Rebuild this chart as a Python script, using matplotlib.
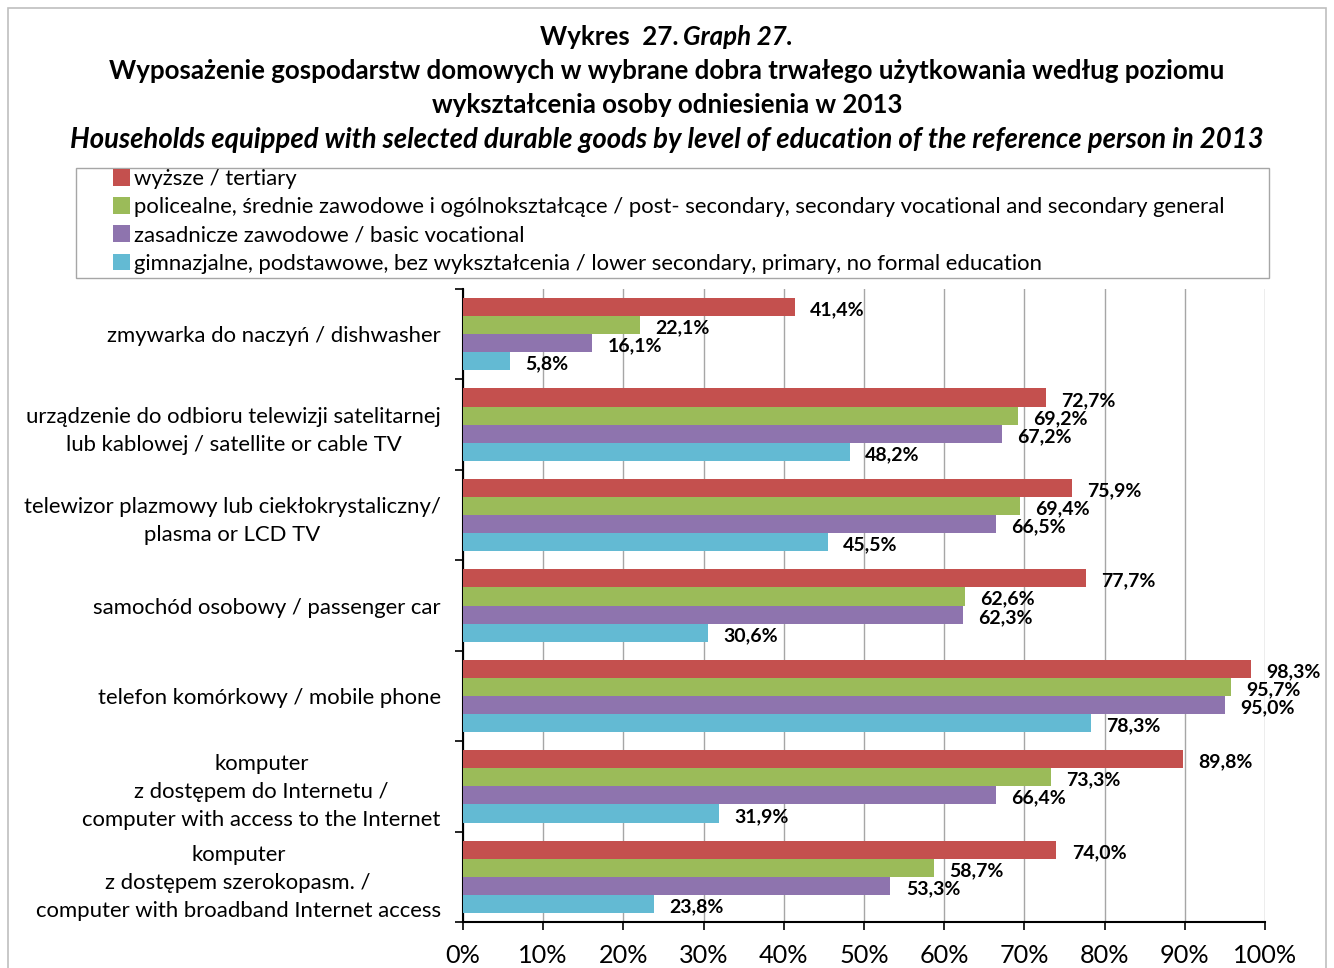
import numpy as np
import matplotlib.pyplot as plt
from matplotlib.patches import Rectangle

plt.rcParams['font.family'] = ['Lato', 'DejaVu Sans']

categories = [
    'zmywarka do naczyń / dishwasher',
    'urządzenie do odbioru telewizji satelitarnej\nlub kablowej / satellite or cable TV',
    'telewizor plazmowy lub ciekłokrystaliczny/\nplasma or LCD TV',
    'samochód osobowy / passenger car',
    'telefon komórkowy / mobile phone',
    'komputer\nz dostępem do Internetu /\ncomputer with access to the Internet',
    'komputer\nz dostępem szerokopasm. /\ncomputer with broadband Internet access',
]
series_names = [
    'wyższe / tertiary',
    'policealne, średnie zawodowe i ogólnokształcące / post- secondary, secondary vocational and secondary general',
    'zasadnicze zawodowe / basic vocational',
    'gimnazjalne, podstawowe, bez wykształcenia / lower secondary, primary, no formal education',
]
tertiary = [41.4, 72.7, 75.9, 77.7, 98.3, 89.8, 74.0]
secondary = [22.1, 69.2, 69.4, 62.6, 95.7, 73.3, 58.7]
vocational = [16.1, 67.2, 66.5, 62.3, 95.0, 66.4, 53.3]
primary = [5.8, 48.2, 45.5, 30.6, 78.3, 31.9, 23.8]
colors = ['#C4504E', '#9BBB59', '#8E74AE', '#63BAD3']

W, H = 1334, 968
fig = plt.figure(figsize=(W / 100, H / 100), dpi=100)

# outer frame
fig.patches.append(Rectangle((8 / W, -0.05), (1326 - 8) / W, 1 - 8 / H + 0.05,
                             transform=fig.transFigure, fill=False,
                             edgecolor='#BFBFBF', linewidth=1.2))

# titles
tfs = 18.6
fig.text(678 / W, 1 - 37 / H, 'Wykres  27.', ha='right', va='center',
         fontsize=tfs, fontweight='bold')
fig.text(683 / W, 1 - 37 / H, 'Graph 27.', ha='left', va='center',
         fontsize=tfs, fontweight='bold', style='italic')
fig.text(0.5, 1 - 71 / H, 'Wyposażenie gospodarstw domowych w wybrane dobra trwałego użytkowania według poziomu',
         ha='center', va='center', fontsize=tfs, fontweight='bold')
fig.text(0.5, 1 - 105 / H, 'wykształcenia osoby odniesienia w 2013',
         ha='center', va='center', fontsize=tfs, fontweight='bold')
fig.text(0.5, 1 - 140 / H, 'Households equipped with selected durable goods by level of education of the reference person in 2013',
         ha='center', va='center', fontsize=19.8, fontweight='bold', style='italic')

ax = fig.add_axes([463 / W, 1 - 922 / H, 802 / W, (922 - 289) / H])

y = np.arange(len(categories))
h = 0.2
offsets = [-0.3, -0.1, 0.1, 0.3]
bars = []
for vals, off, col, name in zip([tertiary, secondary, vocational, primary], offsets, colors, series_names):
    b = ax.barh(y + off, vals, height=h, color=col, edgecolor='none', label=name, zorder=3)
    bars.append(b)
    for yi, v in zip(y, vals):
        ax.annotate(f'{v:.1f}%'.replace('.', ','), (v, yi + off), xytext=(11, -2),
                    textcoords='offset points', ha='left', va='center',
                    fontsize=14, fontweight='bold', zorder=5)

ax.set_xlim(0, 100)
ax.set_ylim(len(categories) - 0.5, -0.5)
ax.set_xticks(np.arange(0, 101, 10))
ax.set_xticklabels([f'{t}%' for t in range(0, 101, 10)], fontsize=18.2)
ax.set_yticks(y)
ax.set_yticklabels(categories, fontsize=15.9, multialignment='center', linespacing=1.5)
ax.set_yticks(np.arange(-0.5, len(categories), 1), minor=True)
ax.tick_params(axis='y', which='major', length=0, pad=16)
ax.tick_params(axis='y', which='minor', length=6, width=1.2, direction='out')
ax.tick_params(axis='x', which='major', length=6, width=1.2, direction='out', pad=10)
ax.grid(axis='x', color='#A6A6A6', linewidth=1, zorder=0)
for s in ['top', 'right']:
    ax.spines[s].set_visible(False)
for s in ['left', 'bottom']:
    ax.spines[s].set_linewidth(1.5)

# legend with its own frame
fig.patches.append(Rectangle((76 / W, 1 - 278 / H), (1269 - 76) / W, 110 / H,
                             transform=fig.transFigure, fill=False,
                             edgecolor='#A6A6A6', linewidth=1))
leg = fig.legend(handles=bars, loc='upper left', bbox_to_anchor=(113 / W, 1 - 169 / H),
                 ncol=1, fontsize=15.9, frameon=False,
                 handlelength=0.77, handleheight=0.77, handletextpad=0.2,
                 labelspacing=0.37, borderpad=0, borderaxespad=0)

fig.savefig('out.png', dpi=100)
